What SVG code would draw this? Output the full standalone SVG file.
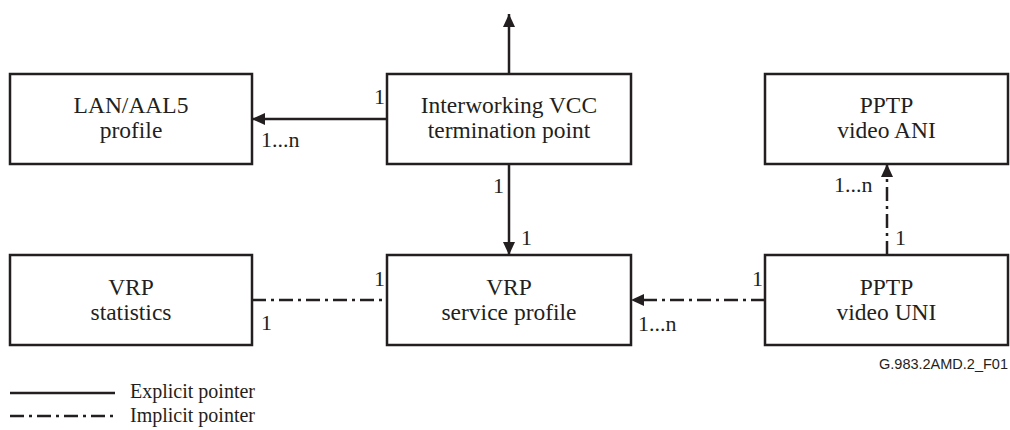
<svg xmlns="http://www.w3.org/2000/svg" width="1010" height="430" viewBox="0 0 1010 430">
<style>
.box{fill:#fff;stroke:#231f20;stroke-width:2.5}
.t{font-family:'Liberation Serif','Times New Roman',serif;font-size:23.5px;fill:#231f20;text-anchor:middle}
.l{font-family:'Liberation Serif','Times New Roman',serif;font-size:22px;fill:#231f20}
.g{font-family:'Liberation Serif','Times New Roman',serif;font-size:20px;fill:#231f20}
.s{fill:none;stroke:#231f20;stroke-width:2.5}
.d{fill:none;stroke:#231f20;stroke-width:2.5;stroke-dasharray:14 5 3 5}
.f{font-family:'Liberation Sans',Arial,sans-serif;font-size:14.5px;fill:#231f20;text-anchor:end}
</style>
<defs>
<marker id="ah" markerUnits="userSpaceOnUse" markerWidth="14" markerHeight="14" viewBox="0 0 14 14" refX="13" refY="7" orient="auto">
<path d="M0,1 L13,7 L0,13 Z" fill="#231f20"/>
</marker>
</defs>
<g id="connectors">
<line class="s" x1="509" y1="74" x2="509" y2="14" marker-end="url(#ah)"/>
<line class="s" x1="387" y1="119" x2="252" y2="119" marker-end="url(#ah)"/>
<line class="s" x1="509" y1="164" x2="509" y2="255" marker-end="url(#ah)"/>
<line class="d" x1="252" y1="300" x2="387" y2="300"/>
<line class="d" x1="765" y1="300" x2="631" y2="300" marker-end="url(#ah)"/>
<line class="d" x1="887" y1="255" x2="887" y2="164" marker-end="url(#ah)"/>
</g>
<g id="lan-aal5-profile">
<rect class="box" x="10" y="74" width="242" height="90"/>
<text class="t" x="131" y="113">LAN/AAL5</text>
<text class="t" x="131" y="138">profile</text>
</g>
<g id="interworking-vcc-tp">
<rect class="box" x="387" y="74" width="244" height="90"/>
<text class="t" x="509" y="113">Interworking VCC</text>
<text class="t" x="509" y="138">termination point</text>
</g>
<g id="pptp-video-ani">
<rect class="box" x="765" y="74" width="243" height="90"/>
<text class="t" x="886.5" y="113">PPTP</text>
<text class="t" x="886.5" y="138">video ANI</text>
</g>
<g id="vrp-statistics">
<rect class="box" x="10" y="255" width="242" height="90"/>
<text class="t" x="131" y="295">VRP</text>
<text class="t" x="131" y="320">statistics</text>
</g>
<g id="vrp-service-profile">
<rect class="box" x="387" y="255" width="244" height="90"/>
<text class="t" x="509" y="295">VRP</text>
<text class="t" x="509" y="320">service profile</text>
</g>
<g id="pptp-video-uni">
<rect class="box" x="765" y="255" width="243" height="90"/>
<text class="t" x="886.5" y="295">PPTP</text>
<text class="t" x="886.5" y="320">video UNI</text>
</g>
<g id="labels">
<text class="l" x="374" y="104">1</text>
<text class="l" x="261" y="147">1...n</text>
<text class="l" x="493" y="193">1</text>
<text class="l" x="521" y="245">1</text>
<text class="l" x="374" y="286">1</text>
<text class="l" x="261" y="330">1</text>
<text class="l" x="752" y="286">1</text>
<text class="l" x="638" y="331">1...n</text>
<text class="l" x="834" y="192">1...n</text>
<text class="l" x="895" y="245">1</text>
<text class="f" x="1008" y="369">G.983.2AMD.2_F01</text>
</g>
<g id="legend">
<line class="s" x1="10" y1="393" x2="115" y2="393"/>
<line class="d" x1="10" y1="416" x2="115" y2="416"/>
<text class="g" x="130" y="398">Explicit pointer</text>
<text class="g" x="130" y="422">Implicit pointer</text>
</g>
</svg>
